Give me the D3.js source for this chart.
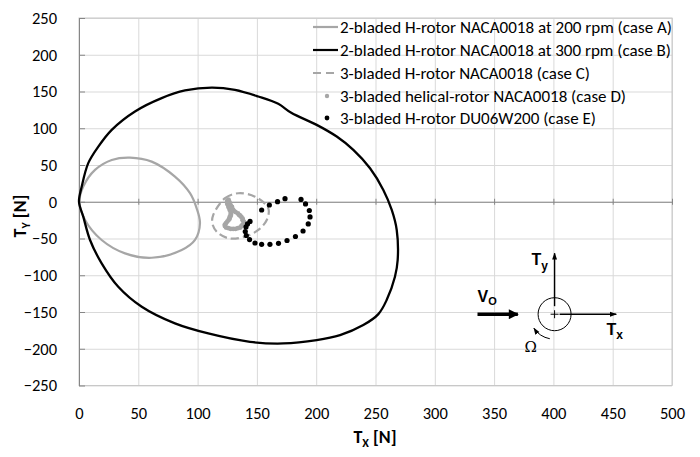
<!DOCTYPE html>
<html><head><meta charset="utf-8">
<script src="https://cdn.jsdelivr.net/npm/d3@7"></script>
<style>body{margin:0;background:#fff}svg{display:block}</style>
</head><body><svg id="c" width="700" height="457"></svg>
<script>
const xTicks = [0,50,100,150,200,250,300,350,400,450,500];
const yTicks = [-250,-200,-150,-100,-50,0,50,100,150,200,250];
const seriesNames = [
  "2-bladed H-rotor NACA0018 at 200 rpm (case A)",
  "2-bladed H-rotor NACA0018 at 300 rpm (case B)",
  "3-bladed H-rotor NACA0018 (case C)",
  "3-bladed helical-rotor NACA0018 (case D)",
  "3-bladed H-rotor DU06W200 (case E)"
];
// case A: 2-bladed, 200 rpm (Tx, Ty)
const caseA = [[0.4,0],[3.6,20.6],[13.5,43.3],[27.6,56.9],[43,60.1],[61.3,54.6],[80.9,34.2],[93.6,11.6],[99.2,-8.9],[102,-29.3],[97.8,-52],[86.6,-65.7],[61.3,-76.2],[38.8,-70.2],[19.1,-52],[5.1,-24.8]];
// case B: 2-bladed, 300 rpm
const caseB = [[0,0],[2.3,20.6],[7.8,52.5],[16.3,75],[27.6,97.8],[47.2,122.8],[69.7,141],[89.4,151.4],[111.9,155.4],[131.5,152.3],[151.2,143.2],[168,133.2],[179.3,120.6],[200.4,104.6],[217.3,88.7],[231.3,70.6],[245.4,45.6],[256.6,16.1],[263.7,-11.2],[267.9,-38.4],[268.7,-79.3],[266.4,-102],[259.4,-133.8],[252.4,-152.9],[239.7,-167.8],[220.1,-181.5],[200.4,-188.3],[172.3,-192.8],[144.2,-190.6],[109,-179.2],[80.9,-165.5],[52.9,-142.9],[33.1,-115.7],[19.1,-83.8],[9.3,-52],[3.6,-20.3]];
// case C: 3-bladed H-rotor
const caseC = [[113.2,-18],[123.1,4.8],[134.3,11.6],[148.4,6.9],[159.6,-8.9],[158.3,-24.8],[151.2,-38.4],[140,-47.5],[125.9,-49.7],[116.1,-40.7],[112.4,-29.3]];
// case D: 3-bladed helical-rotor (dense markers)
const caseD = [[126,2],[125,0],[127,-1],[127,-3],[128,-5],[129,-7],[129,-9],[130,-11],[131,-13],[132,-14],[134,-16],[135,-18],[136,-19],[137,-21],[138,-23],[138,-25],[139,-27],[139,-29],[138,-31],[137,-33],[136,-35],[134,-36],[132,-37],[130,-37],[128,-37],[126,-36],[124,-35],[123,-33],[123,-31],[124,-29],[125,-27],[126,-25],[127,-23],[127,-21],[128,-19],[128,-17],[128,-15],[128,-13],[127,-11],[127,-9],[126,-7],[126,-5],[125,-3],[125,1],[126,3]];
// case E: 3-bladed H-rotor DU06W200
const caseE = [[154,-11.2],[160.5,-4.4],[167.4,0.1],[173.7,4.2],[187.2,3.1],[191,-3],[194.2,-11.9],[194.8,-20.7],[193.3,-30.2],[188.9,-39.8],[182.5,-47.3],[175.4,-52.7],[168.2,-56.5],[161,-57.9],[154,-57.9],[148.4,-56.1],[143.8,-51.4],[141.1,-45.9],[140.2,-40.5],[140.8,-34.3],[142.1,-30.2],[144.2,-26.8]];

const GRAY = "#a6a6a6", BLACK = "#000";
const FONT = "Carlito, Calibri, Lato, 'Noto Sans', sans-serif";
const svg = d3.select("#c");
const x = d3.scaleLinear().domain([0,500]).range([79,672]);
const y = d3.scaleLinear().domain([-250,250]).range([385.5,18]);

// gridlines
svg.append("g").attr("transform",`translate(0,${y(-250)})`)
  .call(d3.axisBottom(x).tickValues(xTicks).tickSize(-(y(-250)-y(250))).tickFormat(""))
  .call(g=>{g.select(".domain").remove();g.selectAll("line").attr("stroke","#d9d9d9");});
svg.append("g").attr("transform",`translate(${x(0)},0)`)
  .call(d3.axisLeft(y).tickValues(yTicks).tickSize(-(x(500)-x(0))).tickFormat(""))
  .call(g=>{g.select(".domain").remove();g.selectAll("line").attr("stroke","#d9d9d9");});
// plot border
svg.append("rect").attr("x",x(0)).attr("y",y(250)).attr("width",x(500)-x(0)).attr("height",y(-250)-y(250))
  .attr("fill","none").attr("stroke","#c8c8c8");
// axes crossing at zero
svg.append("g").attr("transform",`translate(0,${y(0)})`)
  .call(d3.axisBottom(x).tickValues(xTicks).tickSize(3).tickSizeOuter(0).tickFormat(""))
  .call(g=>{g.selectAll("line,path").attr("stroke","#868686");g.selectAll(".tick line").attr("y1",-3);});
svg.append("g").attr("transform",`translate(${x(0)},0)`)
  .call(d3.axisRight(y).tickValues(yTicks).tickSize(6).tickSizeOuter(0).tickFormat(""))
  .call(g=>{g.selectAll("line,path").attr("stroke","#868686");});

// tick labels
svg.append("g").attr("transform",`translate(0,${y(-250)+28})`)
  .call(d3.axisBottom(x).tickValues(xTicks).tickSize(0).tickPadding(0))
  .call(g=>{g.select(".domain").remove();g.selectAll("text").attr("fill","#000").style("font-family",FONT).style("font-size","16.5px").attr("dy","0.32em");});
svg.append("g").attr("transform",`translate(57,0)`)
  .call(d3.axisLeft(y).tickValues(yTicks).tickSize(0).tickPadding(0))
  .call(g=>{g.select(".domain").remove();g.selectAll("text").attr("fill","#000").style("font-family",FONT).style("font-size","16.5px");});

// axis titles
const xt = svg.append("text").attr("x",375).attr("y",443).attr("text-anchor","middle")
  .style("font-family",FONT).style("font-weight","bold").style("font-size","18px");
xt.append("tspan").text("T");
xt.append("tspan").text("X").style("font-size","12px").attr("dy",4);
xt.append("tspan").text(" [N]").attr("dy",-4);
const yt = svg.append("text").attr("transform","translate(26,216) rotate(-90)").attr("text-anchor","middle")
  .style("font-family",FONT).style("font-weight","bold").style("font-size","18px");
yt.append("tspan").text("T");
yt.append("tspan").text("Y").style("font-size","12px").attr("dy",4);
yt.append("tspan").text(" [N]").attr("dy",-4);

// series
const line = d3.line().x(d=>x(d[0])).y(d=>y(d[1])).curve(d3.curveCatmullRomClosed.alpha(0.5));
svg.append("path").datum(caseA).attr("d",line).attr("fill","none").attr("stroke",GRAY).attr("stroke-width",2.2);
svg.append("path").datum(caseB).attr("d",line).attr("fill","none").attr("stroke",BLACK).attr("stroke-width",2.3);
svg.append("path").datum(caseC).attr("d",line).attr("fill","none").attr("stroke",GRAY).attr("stroke-width",2.2).attr("stroke-dasharray","8,4");
svg.append("g").selectAll("circle").data(caseD).join("circle")
  .attr("cx",d=>x(d[0])).attr("cy",d=>y(d[1])).attr("r",2.4).attr("fill",GRAY);
svg.append("g").selectAll("circle").data(caseE).join("circle")
  .attr("cx",d=>x(d[0])).attr("cy",d=>y(d[1])).attr("r",2.6).attr("fill",BLACK);

// legend
const lg = svg.append("g");
const rowY = [27,50,73,96,118];
const rowW = [332,331,250,286,256];
seriesNames.forEach((n,i)=>{
  const yy = rowY[i];
  if(i<2) lg.append("line").attr("x1",313).attr("x2",338).attr("y1",yy).attr("y2",yy).attr("stroke",i==0?GRAY:BLACK).attr("stroke-width",2.2);
  if(i==2) lg.append("line").attr("x1",313).attr("x2",338).attr("y1",yy).attr("y2",yy).attr("stroke",GRAY).attr("stroke-width",2.2).attr("stroke-dasharray","8,5");
  if(i==3) lg.append("circle").attr("cx",327).attr("cy",yy).attr("r",2.2).attr("fill",GRAY);
  if(i==4) lg.append("circle").attr("cx",327).attr("cy",yy).attr("r",2.4).attr("fill",BLACK);
  lg.append("text").attr("class","lt").attr("x",340).attr("y",yy).attr("dy","0.35em").text(n)
    .style("font-family",FONT).style("font-size","17px")
    .attr("textLength",rowW[i]).attr("lengthAdjust","spacingAndGlyphs");
});

// inset diagram
const ins = svg.append("g");
const defs = svg.append("defs");
defs.append("marker").attr("id","ah").attr("viewBox","0 0 10 10").attr("refX",9).attr("refY",5)
  .attr("markerWidth",7).attr("markerHeight",7).attr("orient","auto").attr("markerUnits","userSpaceOnUse")
  .append("path").attr("d","M0,1.5L10,5L0,8.5Z").attr("fill","#000");
defs.append("marker").attr("id","ahb").attr("viewBox","0 0 10 10").attr("refX",9).attr("refY",5)
  .attr("markerWidth",12).attr("markerHeight",10).attr("orient","auto").attr("markerUnits","userSpaceOnUse")
  .append("path").attr("d","M0,0L10,5L0,10Z").attr("fill","#000");
const cx = x(401), cy = y(-153);
ins.append("circle").attr("cx",cx).attr("cy",cy).attr("r",16.5).attr("fill","none").attr("stroke","#000").attr("stroke-width",1);
ins.append("line").attr("x1",cx).attr("x2",cx).attr("y1",cy-8).attr("y2",y(-70)).attr("stroke","#000").attr("stroke-width",1.4).attr("marker-end","url(#ah)");
ins.append("line").attr("x1",cx+5).attr("x2",x(453)).attr("y1",cy).attr("y2",cy).attr("stroke","#000").attr("stroke-width",1.4).attr("marker-end","url(#ah)");
ins.append("path").attr("d",`M${cx-4},${cy}H${cx+4}M${cx},${cy-4}V${cy+4}`).attr("stroke","#000").attr("stroke-width",1);
ins.append("line").attr("x1",x(336)).attr("x2",x(370)).attr("y1",cy).attr("y2",cy).attr("stroke","#000").attr("stroke-width",3.5).attr("marker-end","url(#ahb)");
const R=25, a1=101*Math.PI/180, a2=146*Math.PI/180;
ins.append("path").attr("d",`M${cx+R*Math.cos(a1)},${cy+R*Math.sin(a1)}A${R},${R} 0 0 1 ${cx+R*Math.cos(a2)},${cy+R*Math.sin(a2)}`)
  .attr("fill","none").attr("stroke","#000").attr("stroke-width",1).attr("marker-end","url(#ah)");
const AF = "Arial, 'Liberation Sans', sans-serif";
const ty = ins.append("text").attr("x",cx-23).attr("y",cy-49).style("font-family",AF).style("font-weight","bold").style("font-size","16px");
ty.append("tspan").text("T"); ty.append("tspan").text("y").style("font-size","12px").attr("dy",5);
const tx = ins.append("text").attr("x",cx+52).attr("y",cy+21).style("font-family",AF).style("font-weight","bold").style("font-size","16px");
tx.append("tspan").text("T"); tx.append("tspan").text("x").style("font-size","12px").attr("dy",4);
const vo = ins.append("text").attr("x",x(336)).attr("y",cy-12).style("font-family",AF).style("font-weight","bold").style("font-size","16px");
vo.append("tspan").text("V"); vo.append("tspan").text("O").style("font-size","11px").attr("dy",3);
ins.append("text").attr("x",cx-30).attr("y",cy+38).style("font-family","'DejaVu Serif', serif").style("font-size","15px").text("Ω");
</script></body></html>
